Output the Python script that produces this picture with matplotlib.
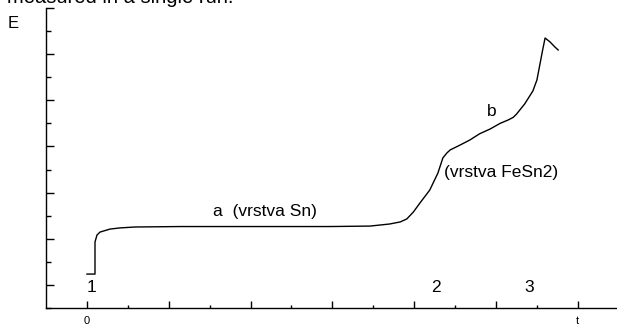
import matplotlib.pyplot as plt
import numpy as np

plt.rcParams['font.family'] = ['Liberation Sans', 'DejaVu Sans']

# krivka E(t)
t = [0.0, 0.098, 0.098, 0.122, 0.159, 0.281, 0.403, 0.587, 1.137, 1.993, 2.97,
     3.46, 3.70, 3.83, 3.91, 3.99, 4.07, 4.19, 4.29, 4.35, 4.40, 4.44, 4.56, 4.68,
     4.80, 4.93, 5.05, 5.15, 5.21, 5.25, 5.35, 5.45, 5.50, 5.54, 5.57, 5.60, 5.66, 5.72, 5.76]
E = [1.47, 1.47, 2.86, 3.16, 3.29, 3.42, 3.47, 3.51, 3.53, 3.53, 3.53,
     3.55, 3.64, 3.73, 3.86, 4.16, 4.55, 5.11, 5.85, 6.50, 6.72, 6.85, 7.06, 7.28,
     7.55, 7.76, 8.00, 8.15, 8.26, 8.40, 8.84, 9.40, 9.88, 10.62, 11.18, 11.70, 11.53, 11.31, 11.18]

xtick_pos = [0, 1, 2, 3, 4, 5, 6]
xtick_lab = ['0', '', '', '', '', '', 't']

# popisky bodů na grafu
notes = ['1', '2', '3', 'a  (vrstva Sn)', '(vrstva FeSn2)', 'b']
note_x = [0.06, 4.27, 5.40, 1.54, 4.37, 4.95]
note_y = [0.87, 0.87, 0.87, 4.16, 5.85, 8.5]
note_ha = ['center', 'center', 'center', 'left', 'left', 'center']

fig = plt.figure(figsize=(6.17, 3.28), dpi=100)
ax = fig.add_axes([46 / 617, 1 - 308 / 328, 1 - 46 / 617, 300 / 328])

ax.plot(t, E, color='black', linewidth=1.0)

ax.set_xlim(-0.501, 6.479)
ax.set_ylim(0, 13)

for s in ['top', 'right']:
    ax.spines[s].set_visible(False)
for s in ['left', 'bottom']:
    ax.spines[s].set_linewidth(1.0)

ax.set_xticks(xtick_pos)
ax.set_xticklabels(xtick_lab, fontsize=8)
ax.set_xticks(np.arange(0.5, 6, 1), minor=True)
ax.set_yticks(np.arange(1, 14, 2))
ax.set_yticks(np.arange(0, 13, 2), minor=True)
ax.set_yticklabels([])

ax.tick_params(axis='x', which='major', direction='in', length=5, width=1, pad=5.5)
ax.tick_params(axis='x', which='minor', direction='in', length=2.2, width=1)
ax.tick_params(axis='y', which='major', direction='in', length=5.8, width=1)
ax.tick_params(axis='y', which='minor', direction='in', length=3.6, width=1)

for txt, x, y, ha in zip(notes, note_x, note_y, note_ha):
    ax.text(x, y, txt, fontsize=12.5, ha=ha, va='center')

fig.text(13 / 617, 1 - 24 / 328, 'E', fontsize=12, ha='center', va='center')
fig.text(7 / 617, 1 - 3 / 328, 'measured in a single run.', fontsize=14.5,
         ha='left', va='baseline')

fig.savefig('out.png', dpi=100)
